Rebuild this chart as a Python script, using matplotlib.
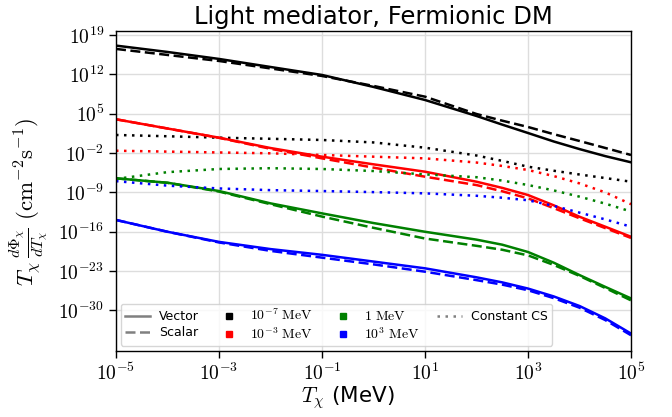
import numpy as np
import matplotlib
matplotlib.use("Agg")
import matplotlib.pyplot as plt
from matplotlib.lines import Line2D
from matplotlib.ticker import NullLocator, FixedLocator, FuncFormatter

plt.rcParams['mathtext.fontset'] = 'cm'
plt.rcParams['font.family'] = ['DejaVu Sans']

# log10 of kinetic energy T_chi (MeV)
log_T = [-5, -4, -3, -2, -1, 0, 1, 2, 2.5, 3, 3.5, 4, 4.5, 5]

# log10 of flux
m1e7_vector = [17.10, 15.97, 14.73, 13.30, 11.88, 9.75, 7.43, 4.59, 3.05, 1.56, 0.05, -1.30, -2.55, -3.65]
m1e7_scalar = [16.51, 15.44, 14.37, 13.04, 11.70, 9.93, 8.02, 4.94, 3.75, 2.63, 1.35, 0.14, -1.10, -2.35]
m1e7_const = [1.21, 0.98, 0.73, 0.53, 0.32, -0.12, -1.05, -2.44, -3.40, -4.43, -5.15, -5.82, -6.45, -7.10]

m1e3_vector = [4.00, 2.36, 0.73, -1.11, -2.65, -4.01, -5.32, -7.10, -8.20, -9.47, -11.30, -13.33, -15.10, -16.89]
m1e3_scalar = [4.00, 2.36, 0.70, -1.25, -2.95, -4.60, -6.21, -7.70, -8.80, -10.06, -11.80, -13.60, -15.35, -17.10]
m1e3_const = [-1.59, -1.75, -1.90, -2.05, -2.35, -2.65, -2.95, -3.69, -4.30, -5.02, -6.10, -7.40, -9.00, -11.10]

m1_vector = [-6.50, -7.28, -8.76, -10.95, -12.73, -14.45, -16.00, -17.40, -18.30, -19.60, -21.50, -23.70, -25.80, -27.85]
m1_scalar = [-6.50, -7.30, -8.85, -11.10, -13.30, -15.30, -17.20, -18.50, -19.20, -20.20, -21.90, -23.85, -26.00, -28.20]
m1_const = [-6.60, -5.40, -4.84, -4.70, -4.84, -5.20, -5.80, -6.30, -6.90, -7.69, -8.65, -9.76, -11.00, -12.40]

m1e3p_vector = [-13.9, -16.0, -17.8, -19.08, -20.1, -21.3, -22.5, -24.1, -25.0, -26.1, -27.5, -29.2, -31.4, -34.1]
m1e3p_scalar = [-13.9, -16.0, -17.9, -19.4, -20.6, -21.8, -23.1, -24.6, -25.4, -26.4, -27.8, -29.5, -31.7, -34.4]
m1e3p_const = [-7.0, -7.8, -8.3, -8.6, -8.76, -8.95, -9.17, -9.6, -9.95, -10.4, -11.4, -12.6, -13.8, -15.1]

mass_labels = [r"$10^{-7}\ \mathrm{MeV}$", r"$10^{-3}\ \mathrm{MeV}$",
               r"$1\ \mathrm{MeV}$", r"$10^{3}\ \mathrm{MeV}$"]
colors = ["black", "red", "green", "blue"]
x_ticks_exp = [-5, -3, -1, 1, 3, 5]
y_ticks_exp = [-30, -23, -16, -9, -2, 5, 12, 19]

series = [
    (m1e7_vector, m1e7_scalar, m1e7_const),
    (m1e3_vector, m1e3_scalar, m1e3_const),
    (m1_vector, m1_scalar, m1_const),
    (m1e3p_vector, m1e3p_scalar, m1e3p_const),
]

DASH = (0, (4, 1.8))
DOT = (0, (1, 2.2))

fig = plt.figure(figsize=(6.72, 4.17), dpi=100)
ax = fig.add_axes([0.1726, 0.1583, 0.7664, 0.7674])

T = 10.0 ** np.array(log_T)
for (v, s, c), col in zip(series, colors):
    ax.plot(T, 10.0 ** np.array(v), color=col, lw=1.8, ls='-')
    ax.plot(T, 10.0 ** np.array(s), color=col, lw=1.8, ls=DASH)
    ax.plot(T, 10.0 ** np.array(c), color=col, lw=1.8, ls=DOT)

ax.set_xscale('log')
ax.set_yscale('log')
ax.set_xlim(1e-5, 1e5)
ax.set_ylim(10 ** -37.2, 10 ** 19.7)
ax.xaxis.set_major_locator(FixedLocator([10.0 ** k for k in x_ticks_exp]))
ax.yaxis.set_major_locator(FixedLocator([10.0 ** k for k in y_ticks_exp]))
ax.xaxis.set_minor_locator(NullLocator())
ax.yaxis.set_minor_locator(NullLocator())
fmt = FuncFormatter(lambda val, pos: r"$10^{%d}$" % int(round(np.log10(val))))
ax.xaxis.set_major_formatter(fmt)
ax.yaxis.set_major_formatter(fmt)
ax.tick_params(axis='both', labelsize=14, length=5, width=1)
ax.grid(True, color='#dddddd', lw=1)
ax.set_axisbelow(True)
for sp in ax.spines.values():
    sp.set_color('black')
    sp.set_linewidth(1.0)

ax.set_xlabel(r"$T_\chi$ (MeV)", fontsize=15.5)
ax.xaxis.set_label_coords(0.45, -0.105)
ax.set_ylabel(r"$T_\chi\,\frac{d\Phi_\chi}{dT_\chi}\ (\mathrm{cm}^{-2}\mathrm{s}^{-1})$", fontsize=16.5)
ax.yaxis.set_label_coords(-0.126, 0.466)
ax.set_title("Light mediator, Fermionic DM", fontsize=17.5, pad=5)

handles = [
    Line2D([], [], color='gray', lw=1.8, ls='-'),
    Line2D([], [], color='gray', lw=1.8, ls=DASH),
]
labels = ["Vector", "Scalar"]
for col, lab in zip(colors, mass_labels):
    handles.append(Line2D([], [], color=col, marker='s', ls='none', markersize=5))
    labels.append(lab)
handles.append(Line2D([], [], color='gray', lw=1.8, ls=DOT))
labels.append("Constant CS")

leg = ax.legend(handles, labels, ncol=4, loc='lower left', fontsize=9,
                frameon=True, framealpha=0.8, edgecolor='#cccccc',
                columnspacing=1.4, handlelength=2.0, handletextpad=0.7,
                borderaxespad=0.4, labelspacing=0.2, borderpad=0.35)
for t in leg.get_texts():
    if t.get_text().startswith('$'):
        t.set_fontsize(10)

fig.savefig("out.png", dpi=100)
